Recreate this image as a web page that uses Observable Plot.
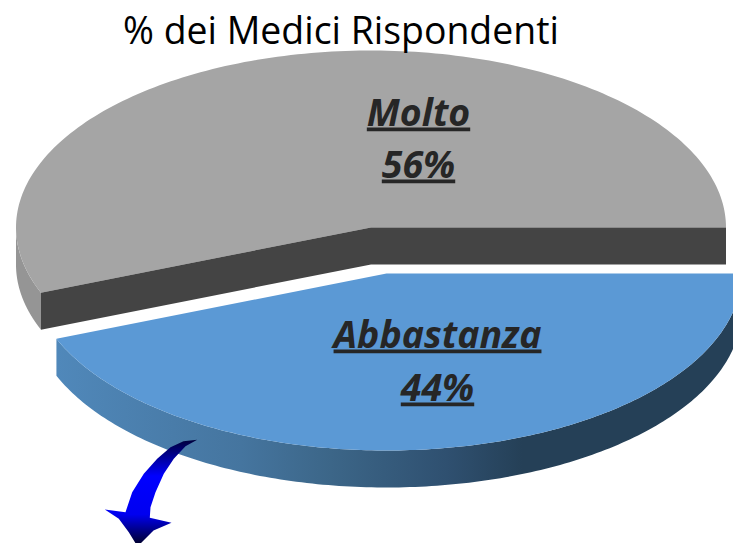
<!DOCTYPE html>
<html>
<head>
<meta charset="utf-8">
<script src="https://cdn.jsdelivr.net/npm/d3@7"></script>
<script src="https://cdn.jsdelivr.net/npm/@observablehq/plot@0.6"></script>
<style>
html,body{margin:0;padding:0;background:#fff;overflow:hidden}
</style>
</head>
<body>
<div id="chart"></div>
<script>
const titleText = "% dei Medici Rispondenti";
const categories = ["Molto", "Abbastanza"];
const shares = [56, 44];
// hand-read outline of the decorative curved arrow below the blue slice
const arrowX = [196.7,183,170,156.7,143.3,131.7,125,104.3,118.3,128.3,135,140,153,171,149.3,150,155,163.3,173.3,185,196.7];
const arrowY = [439.3,440.7,446.7,458.3,473.3,491.7,511.7,509,518.3,531.7,542.7,543,530,522.3,517.3,506.7,491.7,473.3,458.3,445.7,439.3];

const W = 733, H = 543;
const rx = 355, ry = 177, depth = 37;
const centers = [{x: 370.5, y: 227}, {x: 386, y: 273}];
const labelPos = [{x: 418, y1: 125, y2: 177}, {x: 437, y1: 347, y2: 400}];

// slice angles follow the data: counter-clockwise from the right-hand side
const total = d3.sum(shares);
const angle = v => v / total * 2 * Math.PI;
const a0 = 0, a1 = angle(shares[0]), a2 = 2 * Math.PI;

const pt = (c, t, dy = 0) => ({x: c.x + rx * Math.cos(t), y: c.y - ry * Math.sin(t) + dy});
const arc = (c, from, to, dy = 0) => d3.range(0, 181).map(i => pt(c, from + (to - from) * i / 180, dy));
const apex = (c, dy = 0) => ({x: c.x, y: c.y + dy});

const [cG, cB] = centers;
const grayTop = [apex(cG), ...arc(cG, a0, a1)];
const grayWall = [...arc(cG, Math.PI, a1), ...arc(cG, a1, Math.PI, depth)];
const grayCutL = [apex(cG), pt(cG, a1), pt(cG, a1, depth), apex(cG, depth)];
const grayCutR = [apex(cG), pt(cG, a0), pt(cG, a0, depth), apex(cG, depth)];
const blueTop = [apex(cB), ...arc(cB, a1, a2)];
const blueWall = [...arc(cB, a1, a2), ...arc(cB, a2, a1, depth)];
const arrow = arrowX.map((x, i) => ({x, y: arrowY[i]}));

const poly = (data, fill) => Plot.line(data, {x: "x", y: "y", fill, stroke: "none", curve: "linear"});

const defs = () => {
  const ns = "http://www.w3.org/2000/svg";
  const d = document.createElementNS(ns, "defs");
  d.innerHTML = `
  <linearGradient id="blueSide" x1="0" x2="1" y1="0" y2="0">
    <stop offset="0" stop-color="#5088ba"/>
    <stop offset="0.27" stop-color="#45759f"/>
    <stop offset="0.4" stop-color="#3c6688"/>
    <stop offset="0.57" stop-color="#2f5070"/>
    <stop offset="0.68" stop-color="#254057"/>
    <stop offset="1" stop-color="#254057"/>
  </linearGradient>
  <linearGradient id="arrowFill" x1="0" x2="0" y1="0" y2="1">
    <stop offset="0" stop-color="#00003a"/>
    <stop offset="0.35" stop-color="#0000ff"/>
    <stop offset="0.72" stop-color="#0000f0"/>
    <stop offset="1" stop-color="#000030"/>
  </linearGradient>`;
  return d;
};

const labels = [];
categories.forEach((c, i) => {
  labels.push({x: labelPos[i].x, y: labelPos[i].y1, t: c});
  labels.push({x: labelPos[i].x, y: labelPos[i].y2, t: shares[i] + "%"});
});

const chart = Plot.plot({
  width: W, height: H,
  margin: 0,
  x: {domain: [0, W], range: [0, W], axis: null},
  y: {domain: [0, H], range: [0, H], axis: null},
  marks: [
    defs,
    poly(grayWall, "#959595"),
    poly(grayTop, "#a5a5a5"),
    poly(grayCutL, "#444444"),
    poly(grayCutR, "#444444"),
    poly(blueWall, "url(#blueSide)"),
    poly(blueTop, "#5b99d5"),
    poly(arrow, "url(#arrowFill)"),
    Plot.text([titleText], {
      x: () => 340.5, y: () => 43, text: d => d,
      fontFamily: "Open Sans", fontSize: 37.4, fill: "#000", lineAnchor: "bottom", textAnchor: "middle"
    }),
    Plot.text(labels, {
      x: "x", y: "y", text: "t",
      fontFamily: "Open Sans", fontSize: 37.5, fontWeight: "bold", fontStyle: "italic",
      fill: "#262626", lineAnchor: "bottom", textAnchor: "middle"
    })
  ]
});
const textGroups = chart.querySelectorAll('g[aria-label="text"]');
textGroups[textGroups.length - 1].querySelectorAll("text").forEach(t => {
  t.style.textDecoration = "underline";
  t.style.textDecorationThickness = "3px";
});
document.getElementById("chart").appendChild(chart);
</script>
</body>
</html>
